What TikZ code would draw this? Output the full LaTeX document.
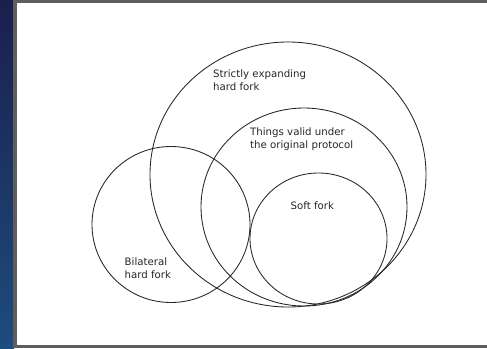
\documentclass[tikz,border=0pt]{standalone}
\usepackage{fontspec}
\setmainfont{DejaVu Sans}
\usetikzlibrary{shapes.geometric}
\definecolor{navytop}{HTML}{1B1F4E}
\definecolor{navybot}{HTML}{1D4C7E}
\definecolor{framegray}{HTML}{5E5E5E}
\begin{document}
\begin{tikzpicture}[x=1pt,y=-1pt,
  setring/.style={draw=black!85, line width=0.85pt, ellipse, inner sep=0pt, minimum width=#1},
  lbl/.style={anchor=north west, align=left, font=\fontsize{10.2}{12.8}\selectfont, text=black!85, inner sep=0pt}]
\useasboundingbox (0,0) rectangle (487,348);
\shade[top color=navytop, bottom color=navybot] (0,0) rectangle (14,348);
\fill[framegray] (13,0) rectangle (487,348);
\fill[white] (17,2.5) rectangle (487,344.5);
% sets
\node[setring=276pt, minimum height=265pt] (expand) at (288,174.5) {};
\node[setring=206pt, minimum height=198pt] (orig) at (304,207) {};
\node[setring=137pt, minimum height=131pt] (soft) at (318.5,238.5) {};
\node[setring=158pt, minimum height=156pt] (bilat) at (171,224.5) {};
% labels
\node[lbl] (texpand) at (213,70) {Strictly expanding\\hard fork};
\node[lbl] (torig) at (250,127.5) {Things valid under\\the original protocol};
\node[lbl] (tsoft) at (290.5,201.5) {Soft fork};
\node[lbl] (tbilat) at (124.5,258) {Bilateral\\hard fork};
\end{tikzpicture}
\end{document}
